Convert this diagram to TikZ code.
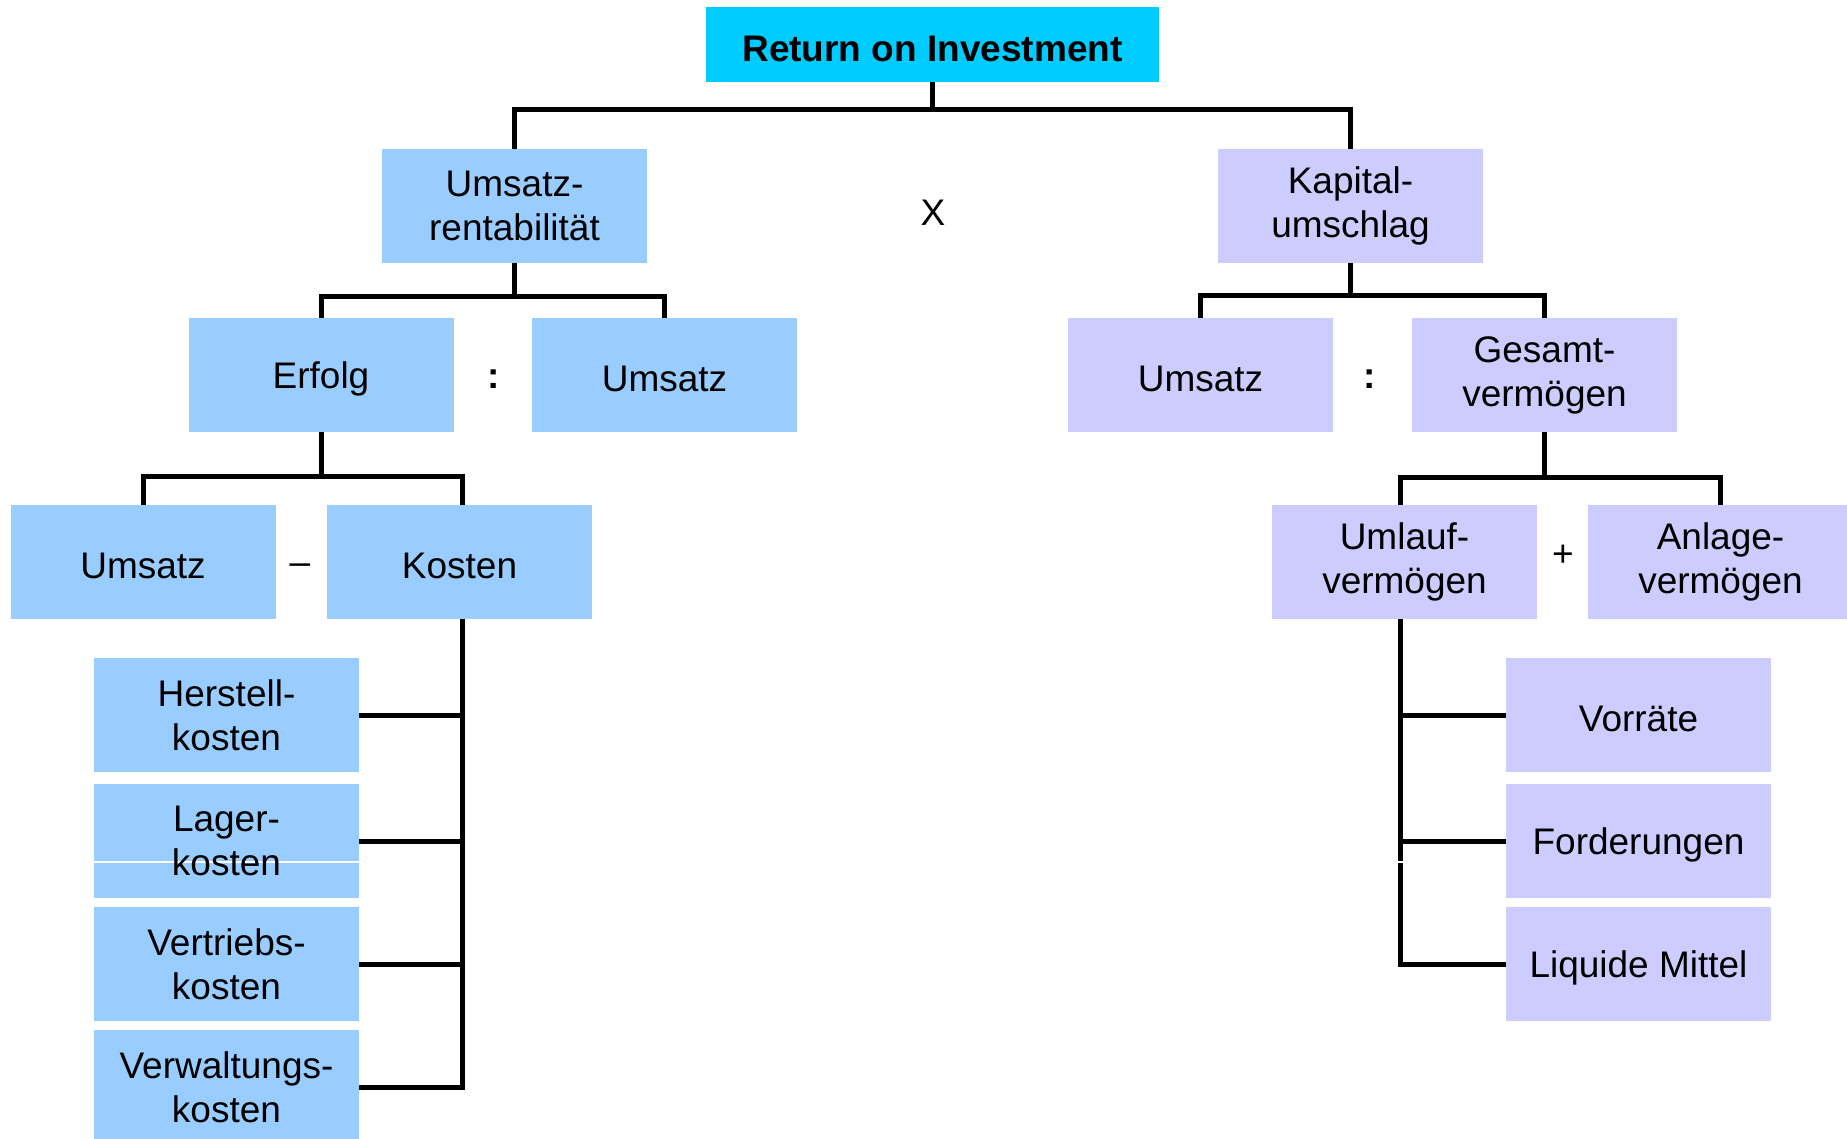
\documentclass[tikz,border=0pt]{standalone}
\usepackage{fontspec}
\setmainfont{Liberation Sans}
\definecolor{roiblue}{HTML}{00CCFF}
\definecolor{leftblue}{HTML}{99CCFF}
\definecolor{rightviolet}{HTML}{CCCCFF}
\tikzset{
  box/.style={inner sep=0pt, minimum width=265pt, minimum height=114pt, align=center,
              execute at begin node={\rule{0pt}{34pt}}},
  lbox/.style={box, fill=leftblue},
  rbox/.style={box, fill=rightviolet},
  conn/.style={draw=black, line width=5pt, line join=miter},
  op/.style={inner sep=0pt},
}
\begin{document}
\begin{tikzpicture}[x=1pt, y=-1pt,
  every node/.style={font=\fontsize{37}{44}\selectfont}]
\useasboundingbox (0,0) rectangle (1847,1138);
\clip (0,0) rectangle (1847,1138);

% top
\node[inner sep=0pt, minimum width=453pt, minimum height=75pt, fill=roiblue,
      execute at begin node={\rule{0pt}{34pt}},
      font=\fontsize{37}{44}\selectfont\bfseries] (roi) at (932.5,44.5) {Return on Investment};

% second level
\node[lbox] (ur) at (514.5,206) {Umsatz-\\rentabilität};
\node[rbox] (ku) at (1350.5,206) {Kapital-\\umschlag};
\node[op] (times) at (933,213) {X};

% third level
\node[lbox] (erf) at (321,375) {Erfolg};
\node[lbox] (um1) at (664.5,375) {Umsatz};
\node[op] (div1) at (493.5,379) {\textbf{:}};
\node[rbox] (um2) at (1200.5,375) {Umsatz};
\node[rbox] (ges) at (1544.5,375) {Gesamt-\\vermögen};
\node[op] (div2) at (1370,379) {\textbf{:}};

% fourth level
\node[lbox] (um3) at (143,562) {Umsatz};
\node[lbox] (kos) at (459.5,562) {Kosten};
\node[op] (minus) at (300,569) {–};
\node[rbox] (ulv) at (1404.5,562) {Umlauf-\\vermögen};
\node[rbox] (alv) at (1720.5,562) {Anlage-\\vermögen};
\node[op] (plus) at (1563,556) {+};

% cost items
\node[lbox] (hk) at (226.5,715) {Herstell-\\kosten};
\node[lbox, path picture={\draw[white, line width=1.2pt]
    ([yshift=-21pt]path picture bounding box.west) --
    ([yshift=-21pt]path picture bounding box.east);}] (lk) at (226.5,841) {Lager-\\kosten};
\node[lbox] (vtk) at (226.5,964) {Vertriebs-\\kosten};
\node[lbox] (vwk) at (226.5,1087) {Verwaltungs-\\kosten};

% current assets items
\node[rbox] (vr) at (1638.5,715) {Vorräte};
\node[rbox] (fo) at (1638.5,841) {Forderungen};
\node[rbox] (lm) at (1638.5,964) {Liquide Mittel};

% brackets
\draw[conn] (roi.south) -- ++(0,27.5) coordinate (t1);
\draw[conn] (ur.north) -- (ur.north |- t1) -- (ku.north |- t1) -- (ku.north);

\draw[conn] (ur.south) -- ++(0,33.5) coordinate (t2);
\draw[conn] (erf.north) -- (erf.north |- t2) -- (um1.north |- t2) -- (um1.north);

\draw[conn] (ku.south) -- ++(0,32) coordinate (t3);
\draw[conn] (um2.north) -- (um2.north |- t3) -- (ges.north |- t3) -- (ges.north);

\coordinate (kx) at ([xshift=3pt]kos.south);
\coordinate (kt) at ([xshift=3pt]kos.north);
\draw[conn] (erf.south) -- ++(0,44.5) coordinate (t4);
\draw[conn] (um3.north) -- (um3.north |- t4) -- (kt |- t4) -- (kt);

\coordinate (ux) at ([xshift=-4pt]ulv.south);
\coordinate (ut) at ([xshift=-4pt]ulv.north);
\draw[conn] (ges.south) -- ++(0,45.5) coordinate (t5);
\draw[conn] (ut) -- (ut |- t5) -- (alv.north |- t5) -- (alv.north);

% cost breakdown
\draw[conn] (kx) |- (vwk.east);
\draw[conn] (hk.east) -- (hk.east -| kx);
\draw[conn] (lk.east) -- (lk.east -| kx);
\draw[conn] (vtk.east) -- (vtk.east -| kx);

% current assets breakdown
\draw[conn] (ux) |- (lm.west);
\draw[conn] (vr.west) -- (vr.west -| ux);
\draw[conn] (fo.west) -- (fo.west -| ux);
\draw[white, line width=1.2pt] ([xshift=-4pt]ux |- 0,862) -- ([xshift=4pt]ux |- 0,862);
\end{tikzpicture}
\end{document}
